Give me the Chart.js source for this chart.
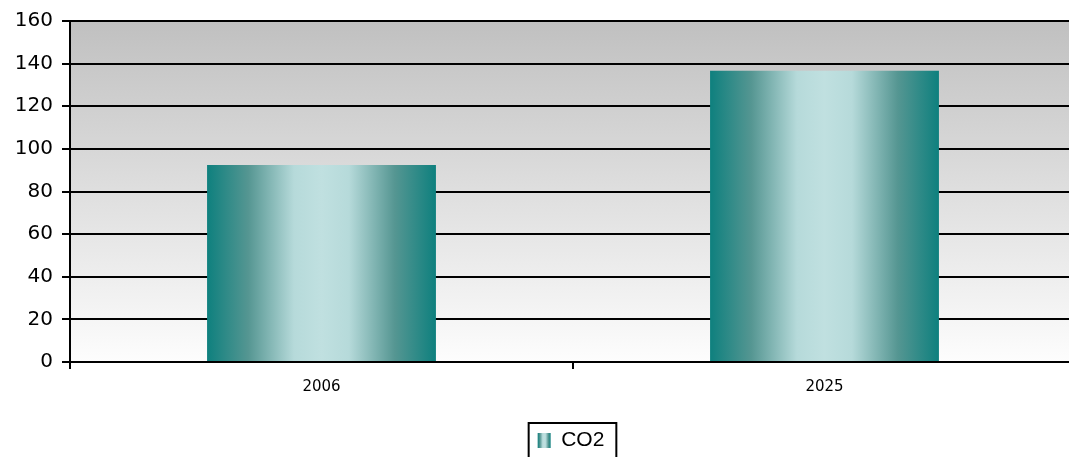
<!DOCTYPE html>
<html>
<head>
<meta charset="utf-8">
<script src="https://cdn.jsdelivr.net/npm/chart.js@4.4.1/dist/chart.umd.min.js"></script>
<style>
html,body{margin:0;padding:0;background:#fff;overflow:hidden;}
#wrap{position:absolute;left:0;top:0;width:1080px;height:461px;}
</style>
</head>
<body>
<div id="wrap"><canvas id="c" width="1080" height="461"></canvas></div>
<script>
const categories = ['2006', '2025'];
const co2Values = [92.4, 136.7];
const seriesName = 'CO2';
const yTicks = [0, 20, 40, 60, 80, 100, 120, 140, 160];
const BAR_FRACTION = 0.455;

function barGradient(ctx, x0, x1) {
  const g = ctx.createLinearGradient(x0, 0, x1, 0);
  g.addColorStop(0, '#0e807e');
  g.addColorStop(0.18, '#559692');
  g.addColorStop(0.38, '#b6dada');
  g.addColorStop(0.5, '#c0e0e0');
  g.addColorStop(0.62, '#b6dada');
  g.addColorStop(0.82, '#559692');
  g.addColorStop(1, '#0e807e');
  return g;
}

const bgPlugin = {
  id: 'plotBg',
  beforeDraw(chart) {
    const {ctx, chartArea: a} = chart;
    const g = ctx.createLinearGradient(0, a.top, 0, a.bottom);
    g.addColorStop(0, '#c0c0c0');
    g.addColorStop(1, '#fdfdfd');
    ctx.save();
    ctx.fillStyle = g;
    ctx.fillRect(a.left, a.top, a.right - a.left, a.bottom - a.top);
    ctx.restore();
    const lg = chart.legend;
    if (lg && lg.legendItems && lg.legendItems.length && lg.legendHitBoxes && lg.legendHitBoxes.length) {
      const hb = lg.legendHitBoxes[0];
      lg.legendItems[0].fillStyle = barGradient(ctx, hb.left, hb.left + 13);
    }
  }
};

const legendShift = {
  id: 'legendShift',
  afterLayout(chart) {
    const lg = chart.legend;
    if (!lg) return;
    const d = 571 - (lg.left + lg.right) / 2;
    lg.left += d; lg.right += d;
  }
};

const legendBorder = {
  id: 'legendBorder',
  afterDraw(chart) {
    const lg = chart.legend;
    if (!lg || !lg.legendHitBoxes || !lg.legendHitBoxes.length) return;
    const h = lg.legendHitBoxes[0];
    const ctx = chart.ctx;
    ctx.save();
    ctx.strokeStyle = '#000';
    ctx.lineWidth = 2;
    ctx.strokeRect(h.left - 9, h.top - 7, h.width + 21, 60);
    ctx.restore();
  }
};

new Chart(document.getElementById('c'), {
  type: 'bar',
  data: {
    labels: categories,
    datasets: [{
      label: seriesName,
      data: co2Values,
      backgroundColor(ctx) {
        const chart = ctx.chart;
        const xs = chart.scales && chart.scales.x;
        if (!chart.chartArea || !xs || ctx.dataIndex === undefined) return '#6aabab';
        const cx = xs.getPixelForValue(ctx.dataIndex);
        const w = (xs.width / categories.length) * BAR_FRACTION;
        return barGradient(chart.ctx, cx - w / 2, cx + w / 2);
      },
      borderWidth: 0,
      barPercentage: BAR_FRACTION,
      categoryPercentage: 1
    }]
  },
  options: {
    responsive: false,
    animation: false,
    devicePixelRatio: 1,
    layout: {padding: {top: 19, right: 4, left: 0, bottom: 0}},
    plugins: {
      legend: {
        position: 'bottom',
        labels: {
          font: {family: 'Liberation Sans', size: 21},
          color: '#000',
          boxWidth: 13,
          boxHeight: 15,
          padding: 10,
          generateLabels(chart) {
            return [{
              text: seriesName,
              fillStyle: '#6aabab',
              strokeStyle: 'rgba(0,0,0,0)',
              lineWidth: 0,
              datasetIndex: 0
            }];
          }
        }
      },
      tooltip: {enabled: false}
    },
    scales: {
      x: {
        afterFit(s) { s.height = 58; },
        border: {color: '#000', width: 2},
        grid: {drawOnChartArea: false, color: '#000', lineWidth: 2, tickLength: 7, offset: true},
        ticks: {font: {family: 'DejaVu Sans', size: 15}, color: '#000', padding: 9}
      },
      y: {
        min: 0, max: 160,
        afterFit(s) { s.width = 70; },
        afterBuildTicks(s) { s.ticks = yTicks.map(v => ({value: v})); },
        border: {color: '#000', width: 2},
        grid: {color: '#000', lineWidth: 2, tickLength: 8},
        ticks: {font: {family: 'DejaVu Sans', size: 20}, color: '#000', padding: 9}
      }
    }
  },
  plugins: [bgPlugin, legendShift, legendBorder]
});
</script>
</body>
</html>
